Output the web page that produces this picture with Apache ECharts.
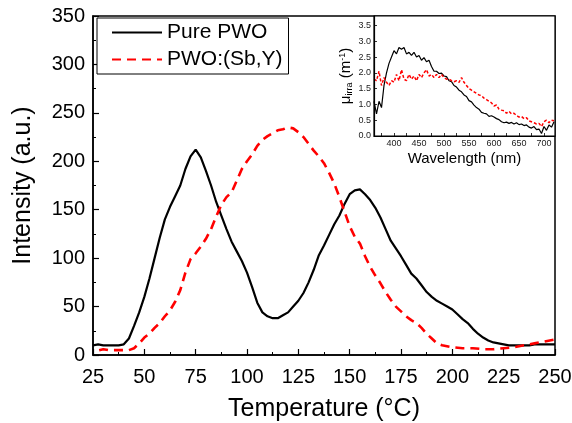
<!DOCTYPE html>
<html>
<head>
<meta charset="utf-8">
<script src="https://cdn.jsdelivr.net/npm/echarts@6/dist/echarts.min.js"></script>
<style>
  html, body { margin: 0; padding: 0; background: #fff; }
  #chart { width: 572px; height: 423px; }
</style>
</head>
<body>
<div id="chart"></div>
<script>
// main panel: temperature (°C) vs intensity
const tempPure = [25,27.5,30,32.5,35,37.5,40,42.5,45,47.5,50,52.5,55,57.5,60,62.5,65,67.5,70,72.5,75,77.5,80,82.5,85,87.5,90,92.5,95,97.5,100,102.5,105,107.5,110,112.5,115,117.5,120,122.5,125,127.5,130,132.5,135,137.5,140,142.5,145,147.5,150,152.5,155,157.5,160,162.5,165,167.5,170,172.5,175,177.5,180,182.5,185,187.5,190,192.5,195,197.5,200,202.5,205,207.5,210,212.5,215,217.5,220,222.5,225,227.5,230,232.5,235,237.5,240,242.5,245,247.5,250];
const intPure = [10,11,10,10,10,10,11,17,30,44,60,79,100,121,140,153,164,175,192,205,212,204,190,175,158,144,130,117,107,97,85,70,54,44,40,38,38,41,44,50,56,64,75,88,103,113,124,135,144,156,166,170,171,166,160,152,142,130,118,110,102,93,84,79,72,65,60,56,53,50,47,42,37,33,27,22,18,15,13,12,11,10,10,10,10,10,11,11,11,11,11];

const tempDoped = [28,30,32.5,35,37.5,40,42.5,45,47.5,50,52.5,55,57.5,60,62.5,65,67.5,70,72.5,75,77.5,80,82.5,85,87.5,90,92.5,95,97.5,100,102.5,105,107.5,110,112.5,115,117.5,120,122.5,125,127.5,130,132.5,135,137.5,140,142.5,145,147.5,150,152.5,155,157.5,160,162.5,165,167.5,170,172.5,175,177.5,180,182.5,185,187.5,190,192.5,195,200,205,210,215,220,225,230,235,240,245,250];
const intDoped = [5,6,5,5,5,5,5,7,12,18,22,28,33,40,46,55,67,85,99,105,112,120,130,143,155,163,168,180,192,200,207,216,222,226,229,232,233,235,234,230,225,218,211,205,198,188,177,163,148,133,122,115,102,91,82,74,65,57,50,45,40,36,33,28,22,17,12,10,8,7,7,6,6,7,8,10,12,14,16];

// inset: wavelength (nm) vs mu_irra
const wavelength = [360,365,370,375,380,385,390,395,400,405,410,415,420,425,430,435,440,445,450,455,460,465,470,475,480,485,490,495,500,505,510,515,520,525,530,535,540,545,550,555,560,565,570,575,580,585,590,595,600,605,610,615,620,625,630,635,640,645,650,655,660,665,670,675,680,685,690,695,700,705,710,715,720];
const muPure = [1.1,0.7,1.1,0.9,1.6,2.0,2.3,2.5,2.7,2.6,2.8,2.75,2.8,2.6,2.65,2.55,2.65,2.5,2.55,2.4,2.48,2.35,2.4,2.2,2.05,2.05,1.98,1.99,1.9,1.88,1.75,1.72,1.6,1.55,1.45,1.4,1.3,1.25,1.12,1.08,0.98,0.9,0.85,0.75,0.72,0.7,0.62,0.64,0.6,0.55,0.52,0.45,0.42,0.44,0.4,0.43,0.38,0.42,0.36,0.38,0.33,0.35,0.28,0.25,0.3,0.2,0.22,0.08,0.3,0.18,0.35,0.28,0.45];
const muDoped = [1.8,1.75,2.05,1.6,1.85,1.7,1.6,1.75,1.7,1.95,1.75,2.1,1.8,1.75,1.95,1.8,1.9,1.75,1.95,1.85,2.0,2.1,1.9,1.95,1.85,1.95,1.85,1.95,1.85,1.8,1.8,1.75,1.72,1.75,1.7,1.85,1.7,1.6,1.5,1.45,1.4,1.35,1.3,1.28,1.2,1.15,1.1,1.05,0.95,0.98,0.85,0.82,0.8,0.72,0.78,0.7,0.72,0.65,0.6,0.62,0.55,0.58,0.48,0.45,0.42,0.38,0.4,0.3,0.45,0.5,0.42,0.5,0.48];

const insetXLabels = [400,450,500,550,600,650,700];
const insetXTicks = [375,400,425,450,475,500,525,550,575,600,625,650,675,700];
const insetYLabels = [0,0.5,1,1.5,2,2.5,3,3.5];

const FONT = 'Liberation Sans, Arial, sans-serif';
const zip = (a, b) => a.map((v, i) => [v, b[i]]);

const chart = echarts.init(document.getElementById('chart'), null, { renderer: 'canvas' });

const option = {
  animation: false,
  backgroundColor: '#fff',
  textStyle: { fontFamily: FONT, color: '#000' },
  grid: [
    { left: 93, right: 17, top: 16, bottom: 68, outerBoundsMode: 'none', containLabel: false,
      show: true, borderColor: '#000', borderWidth: 1.5, z: 0 },
    { left: 374, right: 17, top: 16, bottom: 287, outerBoundsMode: 'none', containLabel: false,
      show: true, backgroundColor: '#fff', borderColor: '#000', borderWidth: 1.2, z: 5 }
  ],
  legend: {
    left: 97, top: 18, orient: 'vertical',
    padding: [4, 6, 4, 14],
    itemWidth: 50, itemHeight: 12, itemGap: 6,
    borderColor: '#000', borderWidth: 1,
    backgroundColor: '#fff',
    itemStyle: { opacity: 0 },
    textStyle: { fontFamily: FONT, fontSize: 21, color: '#000' },
    data: ['Pure PWO', 'PWO:(Sb,Y)']
  },
  xAxis: [
    {
      gridIndex: 0, type: 'value', min: 25, max: 250, interval: 25,
      name: 'Temperature (\u00b0C)', nameLocation: 'middle', nameGap: 42,
      nameTextStyle: { fontSize: 25, color: '#000', fontFamily: FONT },
      axisLine: { lineStyle: { color: '#000', width: 1.5 } },
      axisTick: { inside: true, length: 6, lineStyle: { color: '#000', width: 1.2 } },
      minorTick: { show: true, splitNumber: 2, length: 3, lineStyle: { color: '#000', width: 1 } },
      axisLabel: { fontSize: 20, color: '#000', margin: 12, fontFamily: FONT, showMinLabel: true, showMaxLabel: true },
      splitLine: { show: false }
    },
    {
      gridIndex: 1, type: 'value', min: 360, max: 722,
      name: 'Wavelength (nm)', nameLocation: 'middle', nameGap: 15,
      nameTextStyle: { fontSize: 15, color: '#000', fontFamily: FONT },
      axisLine: { lineStyle: { color: '#000', width: 1.2 } },
      axisTick: { inside: true, length: 3, customValues: insetXTicks, lineStyle: { color: '#000', width: 0.8 } },
      axisLabel: { fontSize: 9, color: '#222', margin: 3, fontFamily: FONT, customValues: insetXLabels },
      splitLine: { show: false },
      z: 7
    }
  ],
  yAxis: [
    {
      gridIndex: 0, type: 'value', min: 0, max: 350, interval: 50,
      name: 'Intensity (a.u.)', nameLocation: 'middle', nameGap: 57,
      nameTextStyle: { fontSize: 25, color: '#000', fontFamily: FONT },
      axisLine: { lineStyle: { color: '#000', width: 1.5 } },
      axisTick: { inside: true, length: 6, lineStyle: { color: '#000', width: 1.2 } },
      minorTick: { show: true, splitNumber: 2, length: 3, lineStyle: { color: '#000', width: 1 } },
      axisLabel: { fontSize: 20, color: '#000', margin: 8, fontFamily: FONT },
      splitLine: { show: false }
    },
    {
      gridIndex: 1, type: 'value', min: 0, max: 3.8,
      name: '\u03bc{sub|irra} (m{sup|-1})', nameLocation: 'middle', nameGap: 20,
      nameTextStyle: {
        fontSize: 15, color: '#000', fontFamily: FONT,
        rich: {
          sub: { fontSize: 9, verticalAlign: 'bottom', padding: [7, 0, 0, 0], fontFamily: FONT },
          sup: { fontSize: 9, verticalAlign: 'top', padding: [0, 0, 7, 0], fontFamily: FONT }
        }
      },
      axisLine: { lineStyle: { color: '#000', width: 1.2 } },
      axisTick: { inside: true, length: 3, customValues: insetYLabels, lineStyle: { color: '#000', width: 0.8 } },
      axisLabel: {
        fontSize: 9, color: '#222', margin: 3, fontFamily: FONT, customValues: insetYLabels,
        formatter: v => v.toFixed(1)
      },
      splitLine: { show: false },
      z: 7
    }
  ],
  series: [
    {
      name: 'Pure PWO', type: 'line', xAxisIndex: 0, yAxisIndex: 0,
      data: zip(tempPure, intPure), showSymbol: false, symbol: 'none',
      lineStyle: { color: '#000', width: 2.2 }, itemStyle: { color: '#000' }, z: 2
    },
    {
      name: 'PWO:(Sb,Y)', type: 'line', xAxisIndex: 0, yAxisIndex: 0,
      data: zip(tempDoped, intDoped), showSymbol: false, symbol: 'none',
      lineStyle: { color: '#ff0000', width: 2.6, type: [9, 6] }, itemStyle: { color: '#ff0000' }, z: 2
    },
    {
      name: 'inset pure', type: 'line', xAxisIndex: 1, yAxisIndex: 1,
      data: zip(wavelength, muPure), showSymbol: false, symbol: 'none',
      lineStyle: { color: '#000', width: 1.2 }, z: 6
    },
    {
      name: 'inset doped', type: 'line', xAxisIndex: 1, yAxisIndex: 1,
      data: zip(wavelength, muDoped), showSymbol: false, symbol: 'none',
      lineStyle: { color: '#ff0000', width: 1.5, type: [3, 2] }, z: 6
    }
  ]
};

chart.setOption(option);
</script>
</body>
</html>
